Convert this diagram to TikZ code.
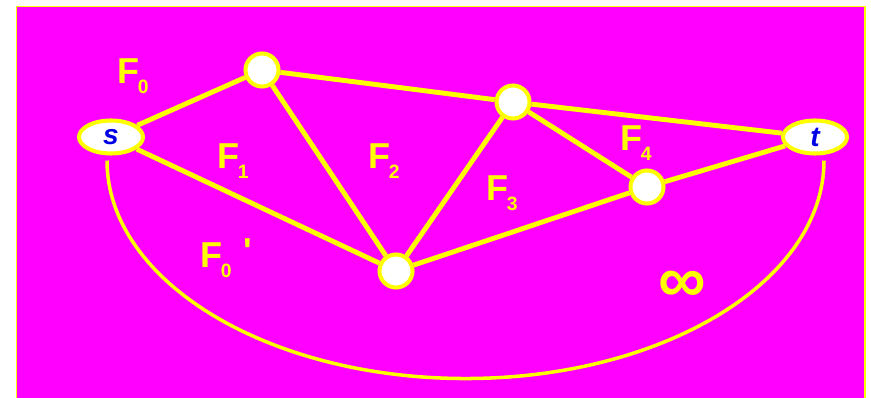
\documentclass[tikz,border=0pt]{standalone}
\usepackage{fontspec}
\setmainfont{Liberation Sans}
\usepackage{tikz}
\usetikzlibrary{shapes.geometric}
\definecolor{bgpink}{RGB}{255,0,255}
\definecolor{lineyel}{RGB}{255,255,0}
\definecolor{termblue}{RGB}{0,0,230}
\newcommand{\Fsub}[1]{F\kern-0.04em\raisebox{-6pt}{\fontsize{11}{11}\selectfont #1}}

\begin{document}
\begin{tikzpicture}[
  vtx/.style={circle, draw=lineyel, line width=2.3pt, fill=white, minimum size=0.66cm, inner sep=0pt},
  term/.style={ellipse, draw=lineyel, line width=2.3pt, fill=white, minimum width=1.28cm, minimum height=0.66cm, inner sep=0pt, font=\fontsize{16}{16}\selectfont\bfseries\itshape, text=termblue},
  edge/.style={lineyel, line width=2.8pt},
  face/.style={anchor=base west, inner sep=0pt, text=lineyel, font=\fontsize{20.5}{20.5}\selectfont\bfseries}
]
  \useasboundingbox (0,0) rectangle (17.42,-7.94);
  \fill[bgpink] (0.33,-0.13) rectangle (17.30,-8.2);
  \draw[lineyel, line width=0.8pt] (0.33,-8.2) -- (0.33,-0.13) -- (17.30,-0.13) -- (17.30,-8.2);

  \node[term] (s) at (2.22,-2.74) {s};
  \node[term] (t) at (16.30,-2.74) {t};
  \node[vtx] (a) at (5.24,-1.40) {};
  \node[vtx] (b) at (10.26,-2.04) {};
  \node[vtx] (c) at (12.94,-3.74) {};
  \node[vtx] (d) at (7.92,-5.42) {};

  \draw[edge] (s) -- (a);
  \draw[edge] (a) -- (b);
  \draw[edge] (b) -- (t);
  \draw[edge] (s) -- (d);
  \draw[edge] (a) -- (d);
  \draw[edge] (b) -- (d);
  \draw[edge] (b) -- (c);
  \draw[edge] (c) -- (t);
  \draw[edge] (d) -- (c);
  \draw[lineyel, line width=2pt] ([shift={(-0.08,-0.1)}]s.south) arc[start angle=180, end angle=360, x radius=7.17cm, y radius=4.36cm];

  \node[face] (f0) at (2.34,-1.66) {\Fsub{0}};
  \node[face] (f1) at (4.34,-3.36) {\Fsub{1}};
  \node[face] (f2) at (7.36,-3.36) {\Fsub{2}};
  \node[face] (f3) at (9.72,-4.00) {\Fsub{3}};
  \node[face] (f4) at (12.40,-3.00) {\Fsub{4}};
  \node[face] (f5) at (4.00,-5.34) {\Fsub{0}\,\,\raisebox{2pt}{\textquotesingle}};
  \node[text=lineyel, font=\fontsize{38}{38}\selectfont\bfseries] (inf) at (13.64,-5.74) {∞};
\end{tikzpicture}
\end{document}
